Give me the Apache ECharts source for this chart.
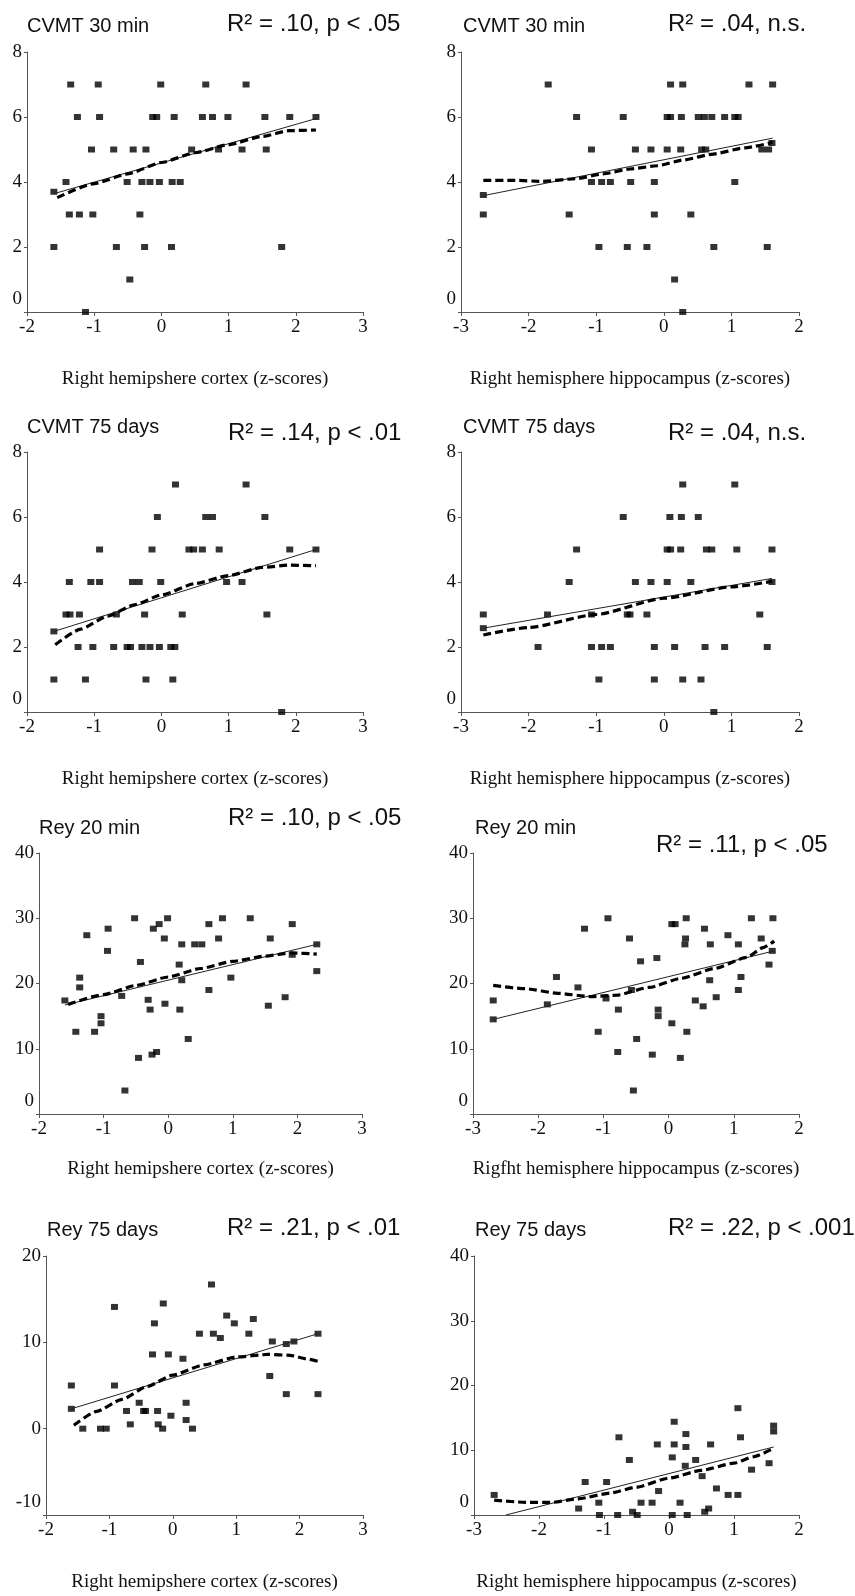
<!DOCTYPE html>
<html><head><meta charset="utf-8">
<script src="https://cdn.jsdelivr.net/npm/echarts@6/dist/echarts.min.js"></script>
<style>html,body{margin:0;padding:0;background:#fff}#c{width:855px;height:1596px}</style>
</head><body><div id="c"></div>
<script>
// ---------- DATA ----------
const panelTitles = ['CVMT 30 min','CVMT 30 min','CVMT 75 days','CVMT 75 days','Rey 20 min','Rey 20 min','Rey 75 days','Rey 75 days'];
const statLabels = ['R\u00b2 = .10, p < .05','R\u00b2 = .04, n.s.','R\u00b2 = .14, p < .01','R\u00b2 = .04, n.s.','R\u00b2 = .10, p < .05','R\u00b2 = .11, p < .05','R\u00b2 = .21, p < .01','R\u00b2 = .22, p < .001'];
const xAxisNames = ['Right hemipshere cortex (z-scores)','Right hemisphere hippocampus (z-scores)','Right hemipshere cortex (z-scores)','Right hemisphere hippocampus (z-scores)','Right hemipshere cortex (z-scores)','Rigfht hemisphere hippocampus (z-scores)','Right hemipshere cortex (z-scores)','Right hemisphere hippocampus (z-scores)'];
const xRanges = [[-2,3],[-3,2],[-2,3],[-3,2],[-2,3],[-3,2],[-2,3],[-3,2]];
const yRanges = [[0,8,2],[0,8,2],[0,8,2],[0,8,2],[0,40,10],[0,40,10],[-10,20,10],[0,40,10]];

const cvmt30CortexPts = [[-1.35,7],[-0.94,7],[-0.01,7],[0.66,7],[1.26,7],
 [-1.25,6],[-0.92,6],[-0.13,6],[-0.07,6],[0.19,6],[0.61,6],[0.76,6],[0.99,6],[1.54,6],[1.91,6],[2.30,6],
 [-1.04,5],[-0.71,5],[-0.42,5],[-0.23,5],[0.45,5],[0.85,5],[1.20,5],[1.56,5],
 [-1.42,4],[-0.51,4],[-0.29,4],[-0.17,4],[-0.03,4],[0.16,4],[0.28,4],
 [-1.37,3],[-1.22,3],[-1.02,3],[-0.32,3],
 [-1.60,2],[-0.67,2],[-0.25,2],[0.15,2],[1.79,2],
 [-0.47,1],[-1.13,0],[-1.60,3.7]];
const cvmt30CortexLin = [[-1.60,3.64],[2.30,5.95]];
const cvmt30CortexCurve = [[-1.55,3.52],[-1.0,3.95],[-0.5,4.25],[0,4.6],[0.5,4.9],[1.0,5.15],[1.5,5.4],[1.9,5.58],[2.3,5.6]];

const cvmt30HippoPts = [[-1.71,7],[0.10,7],[0.28,7],[1.26,7],[1.61,7],
 [-1.29,6],[-0.60,6],[0.05,6],[0.10,6],[0.26,6],[0.51,6],[0.60,6],[0.71,6],[0.90,6],[1.05,6],[1.10,6],
 [-1.07,5],[-0.42,5],[-0.19,5],[0.05,5],[0.25,5],[0.56,5],[0.62,5],[1.45,5],[1.55,5],[1.60,5.2],
 [-1.07,4],[-0.92,4],[-0.79,4],[-0.49,4],[-0.14,4],[1.05,4],
 [-2.67,3],[-1.40,3],[-0.14,3],[0.40,3],
 [-0.96,2],[-0.54,2],[-0.25,2],[0.74,2],[1.53,2],
 [0.16,1],[0.28,0],[-2.67,3.6]];
const cvmt30HippoLin = [[-2.67,3.58],[1.61,5.35]];
const cvmt30HippoCurve = [[-2.67,4.05],[-2.2,4.05],[-1.8,4.02],[-1.3,4.1],[-0.9,4.25],[-0.5,4.4],[-0.1,4.5],[0.3,4.68],[0.7,4.85],[1.2,5.05],[1.61,5.22]];

const cvmt75CortexPts = [[0.21,7],[1.26,7],
 [-0.06,6],[0.66,6],[0.76,6],[1.54,6],
 [-0.92,5],[-0.14,5],[0.41,5],[0.48,5],[0.61,5],[0.86,5],[1.91,5],[2.30,5],
 [-1.37,4],[-1.05,4],[-0.92,4],[-0.43,4],[-0.33,4],[-0.01,4],[0.97,4],[1.20,4],
 [-1.42,3],[-1.36,3],[-1.22,3],[-0.67,3],[-0.25,3],[0.31,3],[1.57,3],
 [-1.24,2],[-1.02,2],[-0.71,2],[-0.51,2],[-0.46,2],[-0.29,2],[-0.17,2],[-0.03,2],[0.14,2],[0.20,2],
 [-1.60,1],[-1.13,1],[-0.23,1],[0.17,1],[1.79,0],[-1.60,2.48]];
const cvmt75CortexLin = [[-1.60,2.48],[2.30,5.0]];
const cvmt75CortexCurve = [[-1.58,2.07],[-1.2,2.55],[-0.8,2.95],[-0.4,3.3],[0,3.6],[0.5,3.95],[1.0,4.2],[1.5,4.45],[1.9,4.52],[2.3,4.5]];

const cvmt75HippoPts = [[0.28,7],[1.05,7],
 [-0.60,6],[0.09,6],[0.26,6],[0.51,6],
 [-1.29,5],[0.05,5],[0.10,5],[0.25,5],[0.63,5],[0.71,5],[1.08,5],[1.60,5],
 [-1.40,4],[-0.42,4],[-0.19,4],[0.05,4],[0.40,4],[1.60,4],
 [-2.67,3],[-1.72,3],[-1.07,3],[-0.54,3],[-0.50,3],[-0.25,3],[1.42,3],
 [-1.86,2],[-1.07,2],[-0.92,2],[-0.79,2],[-0.14,2],[0.16,2],[0.61,2],[0.90,2],[1.53,2],
 [-0.96,1],[-0.14,1],[0.28,1],[0.55,1],[0.74,0],[-2.67,2.58]];
const cvmt75HippoLin = [[-2.67,2.58],[1.60,4.11]];
const cvmt75HippoCurve = [[-2.67,2.37],[-2.0,2.6],[-1.0,3.0],[0,3.5],[1.0,3.85],[1.60,4.02]];

const rey20CortexPts = [[-1.60,17.4],[-1.43,12.6],[-1.37,20.9],[-1.37,19.4],[-1.26,27.4],[-1.14,12.6],[-1.04,15.0],[-1.04,13.9],[-0.93,28.4],[-0.94,25.0],[-0.72,18.1],[-0.67,3.6],[-0.52,30.0],[-0.46,8.6],[-0.43,23.3],[-0.31,17.5],[-0.28,16.0],[-0.25,9.1],[-0.18,9.5],[-0.23,28.4],[-0.14,29.1],[-0.06,26.9],[-0.01,30.0],[-0.05,16.9],[0.17,22.9],[0.18,16.0],[0.21,26.0],[0.21,20.5],[0.31,11.5],[0.41,26.0],[0.52,26.0],[0.63,29.1],[0.63,19.0],[0.78,26.9],[0.84,30.0],[0.97,20.9],[1.27,30.0],[1.55,16.6],[1.58,26.9],[1.81,17.9],[1.92,29.1],[1.92,24.4],[2.30,26.0],[2.30,21.9]];
const rey20CortexLin = [[-1.60,16.7],[2.30,26.0]];
const rey20CortexCurve = [[-1.55,16.8],[-1.0,18.3],[-0.5,19.7],[0,21.0],[0.5,22.3],[1.0,23.4],[1.5,24.2],[1.9,24.7],[2.3,24.5]];

const rey20HippoPts = [[-2.69,17.4],[-2.69,14.5],[-1.86,16.8],[-1.72,21.0],[-1.39,19.4],[-1.29,28.4],[-1.08,12.6],[-0.93,30.0],[-0.96,17.7],[-0.77,16.0],[-0.78,9.5],[-0.60,26.9],[-0.57,19.0],[-0.54,3.6],[-0.49,11.5],[-0.43,23.4],[-0.25,9.1],[-0.18,23.9],[-0.16,16.0],[-0.16,15.0],[0.05,29.1],[0.10,29.1],[0.05,13.9],[0.18,8.6],[0.27,30.0],[0.26,26.9],[0.25,26.0],[0.28,12.6],[0.41,17.4],[0.53,16.5],[0.55,28.4],[0.64,26.0],[0.63,20.5],[0.73,17.9],[0.91,27.4],[1.07,26.0],[1.11,21.0],[1.07,19.0],[1.27,30.0],[1.42,26.9],[1.54,22.9],[1.60,30.0],[1.59,25.0]];
const rey20HippoLin = [[-2.69,14.5],[1.62,25.0]];
const rey20HippoCurve = [[-2.69,19.7],[-2.2,19.2],[-1.7,18.5],[-1.2,18.0],[-0.8,18.2],[-0.3,19.4],[0.2,20.8],[0.7,22.3],[1.2,24.0],[1.45,25.5],[1.62,26.5]];

const rey75CortexPts = [[-1.60,5.0],[-1.60,2.3],[-1.42,0],[-1.14,0],[-1.05,0],[-0.92,14.1],[-0.92,5.0],[-0.73,2.05],[-0.67,0.5],[-0.53,3.0],[-0.46,2.05],[-0.43,2.05],[-0.32,8.6],[-0.29,12.2],[-0.24,2.05],[-0.23,0.5],[-0.16,0],[-0.15,14.5],[-0.07,8.6],[-0.03,1.5],[0.16,8.1],[0.21,3.0],[0.21,1.0],[0.31,0],[0.42,11.0],[0.61,16.7],[0.64,11.0],[0.75,10.5],[0.85,13.1],[0.97,12.2],[1.20,11.0],[1.27,12.7],[1.53,6.1],[1.57,10.1],[1.79,4.0],[1.79,9.8],[1.91,10.1],[2.29,11.0],[2.29,4.0]];
const rey75CortexLin = [[-1.60,2.3],[2.29,11.0]];
const rey75CortexCurve = [[-1.56,0.4],[-1.2,2.0],[-0.8,3.4],[-0.4,4.9],[0,6.2],[0.5,7.4],[1.0,8.3],[1.5,8.6],[1.85,8.5],[2.1,8.1],[2.29,7.8]];

const rey75HippoPts = [[-2.69,3.1],[-1.39,1.0],[-1.29,5.1],[-1.08,1.9],[-0.96,5.1],[-0.77,12.0],[-0.61,8.5],[-0.43,1.9],[-0.26,1.9],[-0.18,10.9],[-0.16,3.7],[0.05,8.9],[0.08,14.4],[0.08,10.9],[0.17,1.9],[0.26,12.5],[0.26,10.5],[0.25,7.6],[0.41,8.5],[0.51,6.0],[0.64,10.9],[0.73,4.1],[0.91,3.1],[1.06,3.1],[1.06,16.5],[1.10,12.0],[1.27,7.0],[1.54,8.0],[1.61,13.8],[1.61,12.9],[-1.07,0],[-0.79,0],[-0.56,0.5],[-0.49,0],[0.05,0],[0.28,0],[0.55,0.5],[0.61,1.0]];
const rey75HippoLin = [[-2.51,0],[1.61,10.5]];
const rey75HippoCurve = [[-2.69,2.3],[-2.2,1.95],[-1.8,1.95],[-1.4,2.5],[-0.9,3.4],[-0.5,4.3],[0,5.7],[0.5,6.9],[1.0,8.0],[1.3,9.0],[1.61,10.3]];

// ---------- LAYOUT ----------
const scatterSets = [cvmt30CortexPts,cvmt30HippoPts,cvmt75CortexPts,cvmt75HippoPts,rey20CortexPts,rey20HippoPts,rey75CortexPts,rey75HippoPts];
const linSets = [cvmt30CortexLin,cvmt30HippoLin,cvmt75CortexLin,cvmt75HippoLin,rey20CortexLin,rey20HippoLin,rey75CortexLin,rey75HippoLin];
const curveSets = [cvmt30CortexCurve,cvmt30HippoCurve,cvmt75CortexCurve,cvmt75HippoCurve,rey20CortexCurve,rey20HippoCurve,rey75CortexCurve,rey75HippoCurve];

const gridBoxes = [
 {left:27,top:52,width:336,height:260},{left:461,top:52,width:338,height:260},
 {left:27,top:452,width:336,height:260},{left:461,top:452,width:338,height:260},
 {left:39,top:853,width:323,height:261},{left:473,top:853,width:326,height:261},
 {left:46,top:1256,width:317,height:259},{left:474,top:1256,width:325,height:259}];
const titlePos = [[27,26],[463,26],[27,427],[463,427],[39,828],[475,828],[47,1230],[475,1230]];
const statPos = [[227,24],[668,24],[228,433],[668,433],[228,818],[656,845],[227,1228],[668,1228]];
const nameGaps = [58,58,58,58,46,46,58,58];

const serif = '"Liberation Serif","Times New Roman",serif';
const sans = '"Liberation Sans",Arial,sans-serif';
const axisCol = '#555';

const grid = [], xAxis = [], yAxis = [], series = [], graphic = [];
for (let i = 0; i < 8; i++) {
  grid.push(Object.assign({containLabel:false}, gridBoxes[i]));
  xAxis.push({
    type:'value', gridIndex:i, min:xRanges[i][0], max:xRanges[i][1], interval:1,
    splitLine:{show:false},
    axisLine:{show:true,onZero:false,lineStyle:{color:axisCol,width:1}},
    axisTick:{show:true,length:4,lineStyle:{color:axisCol}},
    axisLabel:{color:'#111',fontFamily:serif,fontSize:19,margin:6},
    name:xAxisNames[i], nameLocation:'middle', nameGap:nameGaps[i],
    nameTextStyle:{color:'#111',fontFamily:serif,fontSize:19}
  });
  yAxis.push({
    type:'value', gridIndex:i, min:yRanges[i][0], max:yRanges[i][1], interval:yRanges[i][2],
    splitLine:{show:false},
    axisLine:{show:true,onZero:false,lineStyle:{color:axisCol,width:1}},
    axisTick:{show:true,length:3,lineStyle:{color:axisCol}},
    axisLabel:{color:'#111',fontFamily:serif,fontSize:19,margin:5,
      formatter:(v,idx)=> idx===0 ? '{lo|'+v+'}' : String(v),
      rich:{lo:{fontFamily:serif,fontSize:19,color:'#111',padding:[0,0,26,0]}}}
  });
  series.push({type:'scatter',xAxisIndex:i,yAxisIndex:i,data:scatterSets[i],
    symbol:'rect',symbolSize:[7,6],itemStyle:{color:'#000'},clip:false,z:2,silent:true});
  series.push({type:'line',xAxisIndex:i,yAxisIndex:i,data:linSets[i],symbol:'none',
    lineStyle:{color:'#222',width:1},z:3,silent:true});
  series.push({type:'line',xAxisIndex:i,yAxisIndex:i,data:curveSets[i],symbol:'none',
    smooth:0.2,smoothMonotone:'x',
    lineStyle:{color:'#000',width:3.2,type:[8,4]},z:4,silent:true});
  graphic.push({type:'text',x:titlePos[i][0],y:titlePos[i][1],
    style:{text:panelTitles[i],font:'20px '+sans,fill:'#111',align:'left',verticalAlign:'middle'}});
  graphic.push({type:'text',x:statPos[i][0],y:statPos[i][1],
    style:{text:statLabels[i],font:'24px '+sans,fill:'#111',align:'left',verticalAlign:'middle'}});
}

const chart = echarts.init(document.getElementById('c'));
chart.setOption({backgroundColor:'#fff',animation:false,grid,xAxis,yAxis,series,graphic});
</script></body></html>
